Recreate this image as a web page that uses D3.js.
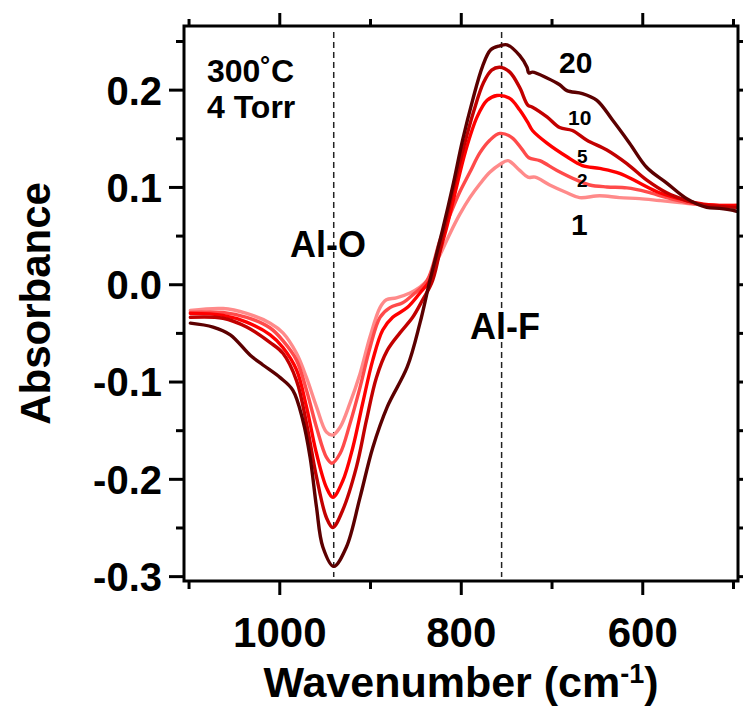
<!DOCTYPE html>
<html>
<head>
<meta charset="utf-8">
<script src="https://cdn.jsdelivr.net/npm/d3@7"></script>
<style>
  body { margin: 0; background: #fff; }
  svg { display: block; }
  text { font-family: "Liberation Sans", Arial, Helvetica, sans-serif; font-weight: bold; fill: #000; }
</style>
</head>
<body>
<svg id="chart" width="743" height="706"></svg>
<script>
// IR difference spectra, Al2O3 after HF exposures at 300 °C / 4 Torr
// each series: [wavenumber (cm^-1), absorbance]
const spectrum1 = [
  [1098,-0.027],[1062,-0.025],[1036,-0.030],[1010,-0.040],[996,-0.050],[981,-0.071],[970,-0.096],
  [959,-0.126],[948,-0.152],[941,-0.155],[933,-0.147],[922,-0.122],[911,-0.092],[900,-0.054],
  [889,-0.024],[882,-0.016],[871,-0.014],[856,-0.009],[845,-0.003],[837,0.004],[823,0.030],
  [812,0.052],[801,0.072],[790,0.089],[779,0.103],[768,0.115],[757,0.123],[748,0.127],[735,0.117],
  [726,0.110],[718,0.110],[702,0.102],[683,0.094],[669,0.089],[647,0.091],[625,0.089],[603,0.088],
  [581,0.086],[559,0.084],[537,0.082],[515,0.081],[496,0.081]
];
const spectrum2 = [
  [1098,-0.029],[1062,-0.029],[1036,-0.034],[1010,-0.045],[996,-0.058],[981,-0.078],[970,-0.109],
  [959,-0.147],[948,-0.178],[942,-0.184],[933,-0.174],[922,-0.143],[911,-0.106],[900,-0.065],
  [889,-0.034],[878,-0.024],[864,-0.019],[853,-0.011],[837,0.004],[823,0.045],[812,0.071],
  [801,0.095],[790,0.115],[779,0.135],[768,0.148],[757,0.155],[744,0.151],[732,0.138],[725,0.130],
  [713,0.127],[694,0.117],[672,0.107],[658,0.102],[639,0.100],[617,0.099],[595,0.095],[573,0.089],
  [551,0.084],[529,0.081],[515,0.080],[496,0.081]
];
const spectrum5 = [
  [1098,-0.030],[1062,-0.032],[1036,-0.039],[1010,-0.052],[996,-0.065],[981,-0.088],[970,-0.126],
  [959,-0.174],[948,-0.209],[941,-0.219],[930,-0.202],[919,-0.168],[908,-0.122],[897,-0.078],
  [886,-0.047],[875,-0.034],[859,-0.024],[845,-0.009],[834,0.004],[818,0.050],[806,0.095],
  [795,0.136],[782,0.172],[771,0.189],[760,0.194],[746,0.191],[735,0.179],[726,0.166],[721,0.158],
  [705,0.145],[683,0.131],[666,0.122],[647,0.119],[625,0.114],[603,0.104],[581,0.094],[559,0.088],
  [537,0.083],[515,0.081],[496,0.081]
];
const spectrum10 = [
  [1098,-0.034],[1062,-0.035],[1036,-0.044],[1010,-0.060],[996,-0.071],[981,-0.099],[970,-0.143],
  [959,-0.198],[948,-0.240],[941,-0.250],[930,-0.232],[915,-0.188],[904,-0.140],[893,-0.096],
  [881,-0.068],[867,-0.050],[853,-0.034],[842,-0.016],[831,0.004],[819,0.053],[808,0.099],
  [797,0.140],[786,0.177],[775,0.207],[766,0.220],[757,0.223],[746,0.218],[735,0.202],[726,0.184],
  [721,0.182],[705,0.172],[691,0.161],[677,0.158],[661,0.148],[639,0.138],[617,0.124],[595,0.107],
  [573,0.094],[551,0.086],[529,0.081],[515,0.080],[496,0.079]
];
const spectrum20 = [
  [1098,-0.040],[1073,-0.044],[1054,-0.052],[1032,-0.073],[1018,-0.083],[999,-0.096],[985,-0.109],
  [974,-0.140],[966,-0.178],[959,-0.229],[952,-0.270],[940,-0.290],[926,-0.270],[911,-0.219],
  [897,-0.168],[881,-0.126],[859,-0.085],[845,-0.040],[834,0.004],[820,0.056],[809,0.100],
  [798,0.148],[787,0.189],[776,0.224],[767,0.241],[757,0.245],[749,0.246],[735,0.235],[727,0.223],
  [725,0.217],[721,0.218],[705,0.212],[691,0.205],[683,0.199],[666,0.196],[650,0.189],[633,0.169],
  [614,0.145],[595,0.120],[573,0.104],[551,0.088],[529,0.079],[515,0.078],[500,0.076],[496,0.075]
];

const exposures = ["1", "2", "5", "10", "20"];
const spectra = [spectrum1, spectrum2, spectrum5, spectrum10, spectrum20];
const lineColors = ["#ff8a8a", "#ff4a4a", "#ff0000", "#c20000", "#5c0000"];

const xMajorTicks = [1000, 800, 600];
const xMinorTicks = [1100, 900, 700, 500];
const yMajorTicks = [0.2, 0.1, 0.0, -0.1, -0.2, -0.3];
const yMinorTicks = [0.25, 0.15, 0.05, -0.05, -0.15, -0.25];
const bandPositions = [940, 755];   // Al-O and Al-F band centres

const svg = d3.select("#chart");
const frame = { left: 184, right: 738, top: 26, bottom: 581 };

const x = d3.scaleLinear().domain([1105, 494.5]).range([frame.left, frame.right]);
const y = d3.scaleLinear().domain([-0.305, 0.2654]).range([frame.bottom, frame.top]);

// dashed band markers
svg.append("g").selectAll("line").data(bandPositions).join("line")
  .attr("x1", d => x(d)).attr("x2", d => x(d))
  .attr("y1", frame.top + 6).attr("y2", frame.bottom - 4)
  .attr("stroke", "#222").attr("stroke-width", 1.5)
  .attr("stroke-dasharray", "6,4");

// spectra
const line = d3.line()
  .x(d => x(d[0])).y(d => y(d[1]))
  .curve(d3.curveCatmullRom.alpha(0.5));

svg.append("g").selectAll("path").data(spectra).join("path")
  .attr("d", line)
  .attr("fill", "none")
  .attr("stroke", (d, i) => lineColors[i])
  .attr("stroke-width", 3.4)
  .attr("stroke-linejoin", "round")
  .attr("stroke-linecap", "round");

// axes: ticks on all four sides, pointing outward
const fmt = d => d.toFixed(1);
function styleAxis(g) {
  g.select(".domain").remove();
  g.selectAll(".tick line").attr("stroke", "#000").attr("stroke-width", 3);
  g.selectAll(".tick text")
    .style("font-family", '"Liberation Sans", Arial, sans-serif')
    .style("font-weight", "bold").attr("fill", "#000");
}

svg.append("g").attr("transform", `translate(0,${frame.bottom})`)
  .call(d3.axisBottom(x).tickValues(xMajorTicks).tickSize(14).tickPadding(22).tickFormat(d3.format("d")))
  .call(styleAxis)
  .call(g => g.selectAll(".tick text").style("font-size", "42px"));
svg.append("g").attr("transform", `translate(0,${frame.bottom})`)
  .call(d3.axisBottom(x).tickValues(xMinorTicks).tickSize(8).tickFormat(""))
  .call(styleAxis);

svg.append("g").attr("transform", `translate(0,${frame.top})`)
  .call(d3.axisTop(x).tickValues(xMajorTicks).tickSize(13).tickFormat(""))
  .call(styleAxis);
svg.append("g").attr("transform", `translate(0,${frame.top})`)
  .call(d3.axisTop(x).tickValues(xMinorTicks).tickSize(7).tickFormat(""))
  .call(styleAxis);

svg.append("g").attr("transform", `translate(${frame.left},0)`)
  .call(d3.axisLeft(y).tickValues(yMajorTicks).tickSize(15).tickPadding(7).tickFormat(fmt))
  .call(styleAxis)
  .call(g => g.selectAll(".tick text").style("font-size", "40px").attr("dy", "0.36em"));
svg.append("g").attr("transform", `translate(${frame.left},0)`)
  .call(d3.axisLeft(y).tickValues(yMinorTicks).tickSize(8).tickFormat(""))
  .call(styleAxis);

svg.append("g").attr("transform", `translate(${frame.right},0)`)
  .call(d3.axisRight(y).tickValues(yMajorTicks).tickSize(13).tickFormat(""))
  .call(styleAxis);
svg.append("g").attr("transform", `translate(${frame.right},0)`)
  .call(d3.axisRight(y).tickValues(yMinorTicks).tickSize(7).tickFormat(""))
  .call(styleAxis);

// plot frame
svg.append("rect")
  .attr("x", frame.left).attr("y", frame.top)
  .attr("width", frame.right - frame.left).attr("height", frame.bottom - frame.top)
  .attr("fill", "none").attr("stroke", "#000").attr("stroke-width", 3);

// axis titles
svg.append("text")
  .attr("transform", `translate(50,${(frame.top + frame.bottom) / 2}) rotate(-90)`)
  .attr("text-anchor", "middle").style("font-size", "42px")
  .text("Absorbance");

const xTitle = svg.append("text")
  .attr("x", (frame.left + frame.right) / 2).attr("y", 697)
  .attr("text-anchor", "middle").style("font-size", "43px");
xTitle.append("tspan").text("Wavenumber (cm");
xTitle.append("tspan").attr("dy", -14).style("font-size", "27px").text("-1");
xTitle.append("tspan").attr("dy", 14).text(")");

// condition labels
svg.append("text").attr("x", 207).attr("y", 82).style("font-size", "32px").text("300˚C");
svg.append("text").attr("x", 207).attr("y", 118).style("font-size", "32px").text("4 Torr");

// band labels
svg.append("text").attr("x", 290).attr("y", 257).style("font-size", "36px").text("Al-O");
svg.append("text").attr("x", 470).attr("y", 339).style("font-size", "36px").text("Al-F");

// exposure-count labels
const exposureLabels = [
  { t: exposures[4], x: 559, y: 73, s: 30 },
  { t: exposures[3], x: 568, y: 125, s: 21 },
  { t: exposures[2], x: 577, y: 163, s: 19 },
  { t: exposures[1], x: 577, y: 187, s: 19 },
  { t: exposures[0], x: 571, y: 235, s: 30 }
];
svg.append("g").selectAll("text").data(exposureLabels).join("text")
  .attr("x", d => d.x).attr("y", d => d.y)
  .style("font-size", d => d.s + "px")
  .text(d => d.t);
</script>
</body>
</html>
